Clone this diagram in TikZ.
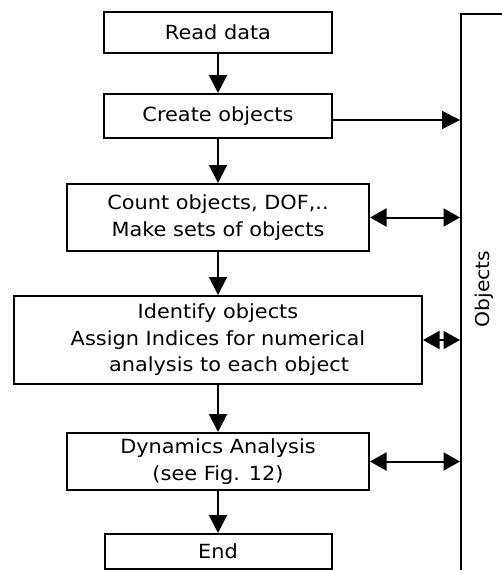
\documentclass[tikz,border=0pt]{standalone}
\usepackage{fontspec}
\setmainfont[FakeStretch=1.07]{DejaVu Sans}
\usetikzlibrary{arrows.meta}
\tikzset{
  box/.style={draw, line width=2pt, inner sep=0pt, align=center,
    font=\fontsize{19.5}{26.5}\selectfont},
  arr/.style={line width=2pt, -{Triangle[length=18pt,width=18pt]}},
  darr/.style={line width=2pt, {Triangle[length=16.5pt,width=18pt]}-{Triangle[length=16.5pt,width=18pt]}},
}
\begin{document}
\begin{tikzpicture}[x=1pt,y=-1pt]
\useasboundingbox (0,0) rectangle (502,570);
\clip (0,0) rectangle (502,570);
\node[box, minimum width=228, minimum height=41] (read) at (218,32.5) {Read data};
\node[box, minimum width=228, minimum height=44] (create) at (218,116) {Create objects};
\node[box, minimum width=302, minimum height=67] (count) at (218,217.5) {Count objects, DOF,..\\Make sets of objects};
\node[box, minimum width=408, minimum height=88] (ident) at (218,340) {Identify objects\\Assign Indices for numerical\\\hspace*{22pt}analysis to each object};
\node[box, minimum width=302, minimum height=57] (dyn) at (218,461.5) {Dynamics Analysis\\(see Fig. 12)};
\node[box, minimum width=227, minimum height=35] (endn) at (218,551.5) {End};
\node[draw, line width=2pt, anchor=north west, minimum width=120, minimum height=620, inner sep=0pt] (obj) at (460,13) {};
\node[rotate=90, font=\fontsize{19}{20}\selectfont] (objlbl) at (484,289) {Objects};
\draw[arr] (read) -- (create);
\draw[arr] (create) -- (count);
\draw[arr] (count) -- (ident);
\draw[arr] (ident) -- (dyn);
\draw[arr] (dyn) -- (endn);
\draw[arr] ([yshift=-4pt]create.east) -- ([yshift=-4pt]obj.west |- create.east);
\draw[darr] (count.east) -- (obj.west |- count.east);
\draw[darr] (ident.east) -- (obj.west |- ident.east);
\draw[darr] (dyn.east) -- (obj.west |- dyn.east);
\end{tikzpicture}
\end{document}
